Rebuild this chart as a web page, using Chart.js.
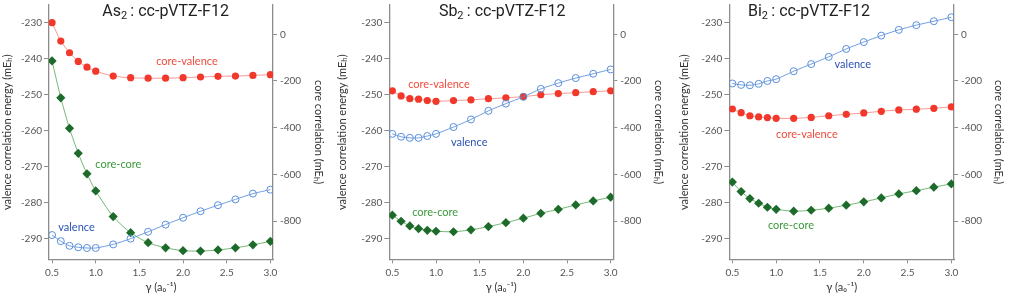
<!DOCTYPE html>
<html>
<head>
<meta charset="utf-8">
<script src="https://cdn.jsdelivr.net/npm/chart.js@4/dist/chart.umd.min.js"></script>
<style>
body { margin: 0; background: #fff; width: 1010px; height: 296px; overflow: hidden; position: relative; }
.panel { position: absolute; top: 0; height: 296px; }
</style>
</head>
<body>
<div class="panel" style="left:0px;width:326px"><canvas id="as2"></canvas></div>
<div class="panel" style="left:335px;width:331px"><canvas id="sb2"></canvas></div>
<div class="panel" style="left:677px;width:329px"><canvas id="bi2"></canvas></div>
<script>
// gamma values (a0^-1)
const gammas = [0.5, 0.6, 0.7, 0.8, 0.9, 1.0, 1.2, 1.4, 1.6, 1.8, 2.0, 2.2, 2.4, 2.6, 2.8, 3.0];

const xTicks = [0.5, 1.0, 1.5, 2.0, 2.5, 3.0];
const leftTicks = [-230, -240, -250, -260, -270, -280, -290];
const rightTicks = [0, -200, -400, -600, -800];

// As2 : valence on left axis, core parts on right axis
const as2Valence = [-288.9, -290.6, -291.9, -292.3, -292.5, -292.5, -291.5, -289.9, -288.0, -286.0, -284.1, -282.3, -280.6, -279.0, -277.4, -276.3];
const as2CoreValence = [50, -29, -79, -116, -141, -158, -179, -186, -188, -188, -186, -183, -180, -179, -176, -173];
const as2CoreCore = [-114, -272, -403, -510, -598, -671, -781, -850, -893, -915, -927, -929, -924, -915, -902, -887];

// Sb2
const sb2Valence = [-260.8, -261.6, -261.9, -261.9, -261.4, -260.8, -258.9, -256.8, -254.4, -252.4, -250.5, -248.3, -246.7, -245.3, -244.1, -242.9];
const sb2CoreValence = [-242, -264, -276, -278, -284, -287, -284, -281, -276, -272, -267, -259, -254, -250, -246, -242];
const sb2CoreCore = [-775, -801, -821, -833, -840, -844, -846, -838, -824, -807, -788, -767, -750, -731, -714, -698];

// Bi2
const bi2Valence = [-246.8, -247.2, -247.3, -246.9, -246.1, -245.6, -243.4, -241.4, -239.4, -237.2, -235.3, -233.5, -231.9, -230.6, -229.5, -228.4];
const bi2CoreValence = [-320, -336, -349, -354, -357, -360, -360, -356, -349, -343, -337, -330, -324, -321, -317, -311];
const bi2CoreCore = [-633, -674, -704, -724, -741, -750, -758, -754, -745, -732, -718, -701, -684, -670, -655, -641];

const RED = '#f2372b', RED_LINE = 'rgba(242,70,60,0.55)';
const GREEN = '#1d6b2b', GREEN_LINE = 'rgba(70,160,70,0.75)';
const BLUE = '#5a8fdc', BLUE_LINE = 'rgba(90,143,220,0.85)';
const AXIS = '#8c8c8c';

// draws series labels and the panel title (with subscript) in data coordinates
const panelText = {
    id: 'panelText',
    afterDatasetsDraw(chart, args, opts) {
        const ctx = chart.ctx;
        const xs = chart.scales.x, ys = chart.scales.yL;
        ctx.save();
        ctx.textBaseline = 'middle';
        ctx.textAlign = 'center';
        ctx.font = '11px Lato, "Open Sans", sans-serif';
        (opts.labels || []).forEach(l => {
            ctx.fillStyle = l.color;
            ctx.fillText(l.text, xs.getPixelForValue(l.x), ys.getPixelForValue(l.y));
        });
        // title: element + subscript + rest
        const t = opts.title;
        const big = '16px Roboto, "Liberation Sans", sans-serif';
        const small = '11px Roboto, "Liberation Sans", sans-serif';
        ctx.font = big; const w1 = ctx.measureText(t.el).width;
        const w3 = ctx.measureText(t.rest).width;
        ctx.font = small; const w2 = ctx.measureText(t.sub).width;
        let x0 = xs.getPixelForValue(t.x) - (w1 + w2 + w3) / 2;
        const y0 = ys.getPixelForValue(t.y);
        ctx.textAlign = 'left';
        ctx.fillStyle = '#222';
        ctx.font = big; ctx.fillText(t.el, x0, y0); x0 += w1;
        ctx.font = small; ctx.fillText(t.sub, x0, y0 + 4); x0 += w2;
        ctx.font = big; ctx.fillText(t.rest, x0, y0);
        ctx.restore();
    }
};

function makePanel(id, leftW, rightW, valence, coreValence, coreCore, title, labels) {
    const tickFont = { family: 'Lato, "Open Sans", sans-serif', size: 10 };
    const titleFont = { family: 'Lato, "Open Sans", sans-serif', size: 11 };
    new Chart(document.getElementById(id), {
        type: 'line',
        data: {
            labels: gammas,
            datasets: [
                {
                    label: 'valence', data: valence, yAxisID: 'yL',
                    borderColor: BLUE_LINE, borderWidth: 1, pointStyle: 'circle', pointRadius: 3.5,
                    pointBorderColor: BLUE, pointBackgroundColor: 'rgba(255,255,255,0)', pointBorderWidth: 1, tension: 0.25
                },
                {
                    label: 'core-valence', data: coreValence, yAxisID: 'yR',
                    borderColor: RED_LINE, borderWidth: 1, pointStyle: 'circle', pointRadius: 3.6,
                    pointBorderColor: RED, pointBackgroundColor: RED, pointBorderWidth: 0, tension: 0.25
                },
                {
                    label: 'core-core', data: coreCore, yAxisID: 'yR',
                    borderColor: GREEN_LINE, borderWidth: 1, pointStyle: 'rectRot', pointRadius: 4.6,
                    pointBorderColor: GREEN, pointBackgroundColor: GREEN, pointBorderWidth: 0, tension: 0.25
                }
            ].map(d => Object.assign(d, {
                data: d.data.map((v, i) => ({ x: gammas[i], y: v })), fill: false
            }))
        },
        options: {
            responsive: true,
            maintainAspectRatio: false,
            animation: false,
            layout: { padding: { top: 5, left: 0, right: 0, bottom: 0 } },
            plugins: {
                legend: { display: false },
                tooltip: { enabled: false },
                panelText: { title, labels }
            },
            scales: {
                x: {
                    type: 'linear', min: 0.465, max: 3.03,
                    afterBuildTicks: s => { s.ticks = xTicks.map(v => ({ value: v })); },
                    afterFit: s => { s.height = 36.7; s.paddingLeft = 0; s.paddingRight = 0; },
                    ticks: { callback: v => v.toFixed(1), color: '#555', font: tickFont, padding: 3, maxRotation: 0 },
                    grid: { drawOnChartArea: false, drawTicks: true, tickLength: 4, color: AXIS },
                    border: { color: AXIS, width: 1.3 },
                    title: { display: true, text: 'γ (a₀⁻¹)', color: '#333', font: titleFont, padding: { top: 0, bottom: 2.4 } }
                },
                yL: {
                    type: 'linear', position: 'left', min: -295.64, max: -225,
                    afterBuildTicks: s => { s.ticks = leftTicks.map(v => ({ value: v })); },
                    afterFit: s => { s.width = leftW; s.paddingTop = 0; s.paddingBottom = 0; },
                    ticks: { callback: v => String(v), color: '#555', font: tickFont, padding: 2 },
                    grid: { drawOnChartArea: false, drawTicks: true, tickLength: 5, color: AXIS },
                    border: { color: AXIS, width: 1.3 },
                    title: { display: true, text: 'valence correlation energy (mEₕ)', color: '#333', font: titleFont, padding: { top: 1, bottom: 0 } }
                },
                yR: {
                    type: 'linear', position: 'right', min: -964.1, max: 125.6,
                    afterBuildTicks: s => { s.ticks = rightTicks.map(v => ({ value: v })); },
                    afterFit: s => { s.width = rightW; s.paddingTop = 0; s.paddingBottom = 0; },
                    ticks: { callback: v => String(v), color: '#555', font: tickFont, padding: 3 },
                    grid: { drawOnChartArea: false, drawTicks: true, tickLength: 4, color: AXIS },
                    border: { color: AXIS, width: 1.3 },
                    title: { display: true, text: 'core correlation (mEₕ)', color: '#333', font: titleFont, padding: { top: 1, bottom: 0 } }
                }
            }
        },
        plugins: [panelText]
    });
}

makePanel('as2', 49, 53, as2Valence, as2CoreValence, as2CoreCore,
    { el: 'As', sub: '2', rest: '\u2009: cc-pVTZ-F12', x: 1.80, y: -226.9 },
    [
        { text: 'core-valence', color: '#f04a3c', x: 2.045, y: -240.6 },
        { text: 'core-core', color: '#3a9a3a', x: 1.259, y: -269.4 },
        { text: 'valence', color: '#2a52b5', x: 0.78, y: -286.9 }
    ]);

makePanel('sb2', 54.3, 52.7, sb2Valence, sb2CoreValence, sb2CoreCore,
    { el: 'Sb', sub: '2', rest: '\u2009: cc-pVTZ-F12', x: 1.757, y: -226.9 },
    [
        { text: 'core-valence', color: '#f04a3c', x: 1.034, y: -247.0 },
        { text: 'valence', color: '#2a52b5', x: 1.38, y: -263.2 },
        { text: 'core-core', color: '#3a9a3a', x: 0.99, y: -282.7 }
    ]);

makePanel('bi2', 52.3, 52, bi2Valence, bi2CoreValence, bi2CoreCore,
    { el: 'Bi', sub: '2', rest: '\u2009: cc-pVTZ-F12', x: 1.374, y: -226.9 },
    [
        { text: 'valence', color: '#2a52b5', x: 1.875, y: -241.5 },
        { text: 'core-valence', color: '#f04a3c', x: 1.351, y: -260.9 },
        { text: 'core-core', color: '#3a9a3a', x: 1.169, y: -286.2 }
    ]);
</script>
</body>
</html>
